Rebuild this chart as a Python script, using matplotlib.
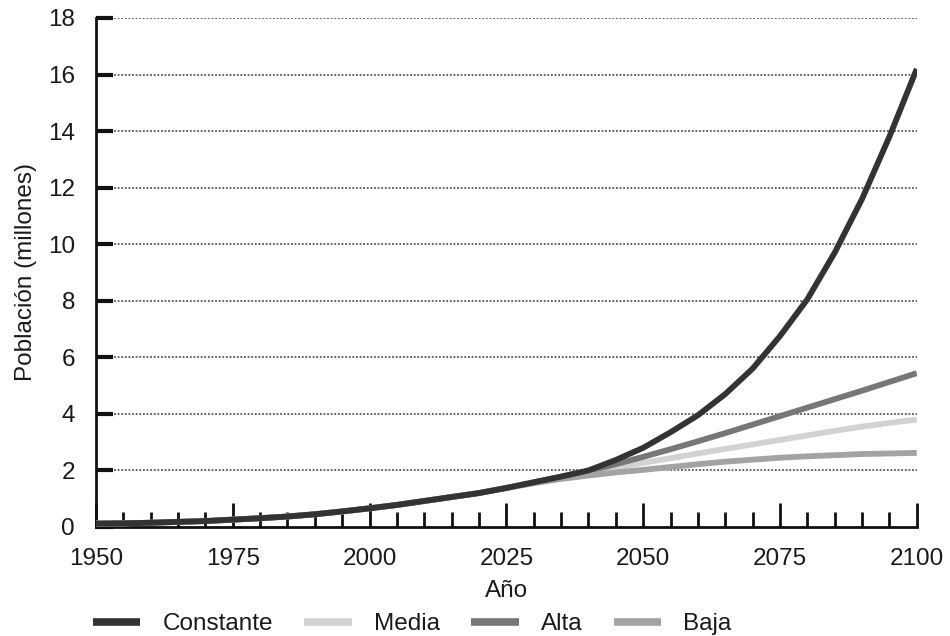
import matplotlib
matplotlib.use("Agg")
import matplotlib.pyplot as plt
from matplotlib.ticker import MultipleLocator

plt.rcParams['font.family'] = ['Liberation Sans', 'DejaVu Sans']

years = list(range(1950, 2101, 5))

constante = [0.12, 0.13, 0.15, 0.18, 0.21, 0.26, 0.31, 0.37, 0.45, 0.55,
             0.66, 0.78, 0.92, 1.06, 1.20, 1.38, 1.58, 1.78, 2.00, 2.37,
             2.80, 3.35, 3.95, 4.70, 5.60, 6.75, 8.05, 9.70, 11.60, 13.80, 16.20]
media = [0.12, 0.13, 0.15, 0.18, 0.21, 0.26, 0.31, 0.37, 0.45, 0.55,
         0.66, 0.78, 0.92, 1.06, 1.20, 1.38, 1.55, 1.75, 1.93, 2.10,
         2.27, 2.43, 2.60, 2.76, 2.92, 3.08, 3.24, 3.40, 3.55, 3.68, 3.80]
alta = [0.12, 0.13, 0.15, 0.18, 0.21, 0.26, 0.31, 0.37, 0.45, 0.55,
        0.66, 0.78, 0.92, 1.06, 1.20, 1.38, 1.58, 1.78, 1.98, 2.22,
        2.48, 2.75, 3.03, 3.32, 3.62, 3.92, 4.22, 4.52, 4.82, 5.13, 5.44]
baja = [0.12, 0.13, 0.15, 0.18, 0.21, 0.26, 0.31, 0.37, 0.45, 0.55,
        0.66, 0.78, 0.92, 1.06, 1.20, 1.38, 1.55, 1.70, 1.82, 1.93,
        2.02, 2.12, 2.22, 2.31, 2.38, 2.45, 2.50, 2.54, 2.58, 2.60, 2.62]

series = [
    ("Constante", constante, "#333333"),
    ("Media", media, "#d2d2d2"),
    ("Alta", alta, "#777777"),
    ("Baja", baja, "#a3a3a3"),
]

y_ticks = list(range(0, 19, 2))
x_ticks = [1950, 1975, 2000, 2025, 2050, 2075, 2100]

FS = 17.5
TXT = "#1a1a1a"

fig = plt.figure(figsize=(9.5, 6.36), dpi=100)
ax = fig.add_axes([0.101, 0.1714, 0.864, 0.8003])

# dotted horizontal guides
for yv in y_ticks[1:]:
    ax.axhline(yv, color="#555555", lw=1.3, ls=(0, (1, 1)), zorder=1)

zorders = {"Constante": 6, "Media": 3, "Alta": 4, "Baja": 5}
handles = []
for name, vals, col in series:
    (ln,) = ax.plot(years, vals, color=col, lw=4.2, label=name,
                    solid_capstyle="butt", solid_joinstyle="round",
                    zorder=zorders[name])
    handles.append(ln)

ax.set_xlim(1950, 2100)
ax.set_ylim(0, 18)
ax.set_xticks(x_ticks)
ax.xaxis.set_minor_locator(MultipleLocator(5))
ax.set_yticks(y_ticks)

for s in ["top", "right"]:
    ax.spines[s].set_visible(False)
for s in ["left", "bottom"]:
    ax.spines[s].set_linewidth(2)
    ax.spines[s].set_color("#111111")

ax.tick_params(axis="x", which="major", direction="in", length=17, width=2,
               color="#111111", labelsize=FS, labelcolor=TXT, pad=15)
ax.tick_params(axis="x", which="minor", direction="in", length=11, width=2,
               color="#111111")
ax.tick_params(axis="y", which="major", direction="in", length=12, width=3,
               color="#111111", labelsize=FS, labelcolor=TXT, pad=15)

ax.set_xlabel("Año", fontsize=FS, color=TXT, labelpad=7)
ax.set_ylabel("Población (millones)", fontsize=FS, color=TXT, labelpad=8)

leg = fig.legend(handles=handles, loc="center left",
                 bbox_to_anchor=(0.098, 1 - 624 / 636), ncol=4, frameon=False,
                 fontsize=FS, handlelength=1.95, handletextpad=0.9,
                 columnspacing=1.3, borderpad=0, borderaxespad=0,
                 labelcolor=TXT)
for hl in leg.get_lines():
    hl.set_linewidth(5.5)

fig.savefig("out.png", dpi=100)
